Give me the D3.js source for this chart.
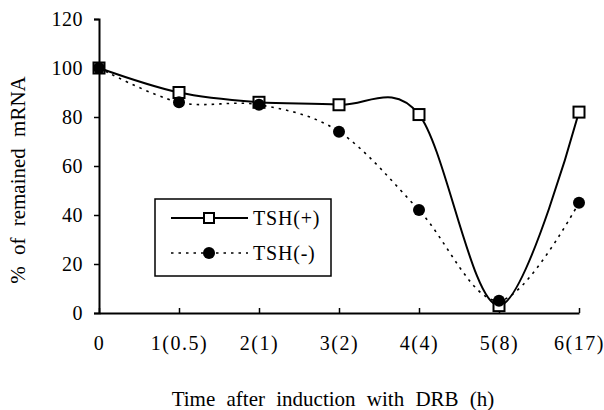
<!DOCTYPE html>
<html>
<head>
<meta charset="utf-8">
<style>
  body { margin: 0; background: #fff; }
</style>
</head>
<body>
<div id="chart"></div>
<script src="https://cdn.jsdelivr.net/npm/d3@7"></script>
<script>
// categories on the x axis (index with hours in brackets)
var timeLabels = ["0", "1(0.5)", "2(1)", "3(2)", "4(4)", "5(8)", "6(17)"];
var tshPlus  = [100, 90, 86, 85, 81, 3, 82];
var tshMinus = [100, 86, 85, 74, 42, 5, 45];
var yTicks = [0, 20, 40, 60, 80, 100, 120];

var serif = "'Liberation Serif', 'DejaVu Serif', serif";
var width = 604, height = 410;
var plot = {left: 99, right: 579, top: 19, bottom: 313};

var svg = d3.select("#chart").append("svg")
  .attr("width", width).attr("height", height)
  .style("font-family", serif);

var x = d3.scaleLinear().domain([0, timeLabels.length - 1]).range([plot.left, plot.right]);
var y = d3.scaleLinear().domain([0, 120]).range([plot.bottom, plot.top]);

// y axis
var yAxis = d3.axisLeft(y).tickValues(yTicks).tickSize(5).tickPadding(11);
var gy = svg.append("g").attr("transform", "translate(" + plot.left + ",0)").call(yAxis);
gy.attr("font-family", null);
gy.select(".domain").attr("stroke-width", 2);
gy.selectAll(".tick line").attr("stroke-width", 1.5);
gy.selectAll("text").style("font-family", serif).style("font-size", "20px").style("letter-spacing", "0.5px");

// x axis, ticks point inward
var xAxis = d3.axisBottom(x).tickValues(d3.range(timeLabels.length))
  .tickFormat(function (d) { return timeLabels[d]; })
  .tickSize(-5).tickSizeOuter(0).tickPadding(23);
var gx = svg.append("g").attr("transform", "translate(0," + plot.bottom + ")").call(xAxis);
gx.attr("font-family", null);
gx.select(".domain").attr("stroke-width", 2);
gx.selectAll(".tick line").attr("stroke-width", 1.5);
gx.selectAll("text").style("font-family", serif).style("font-size", "20px").style("letter-spacing", "1.5px");

// axis titles
svg.append("text")
  .attr("x", 333).attr("y", 406)
  .attr("text-anchor", "middle").style("font-size", "21px")
  .style("word-spacing", "6px")
  .text("Time after induction with DRB (h)");

svg.append("text")
  .attr("transform", "translate(25,180) rotate(-90)")
  .attr("text-anchor", "middle").style("font-size", "21px")
  .style("word-spacing", "6px")
  .text("% of remained mRNA");

// smoothed lines like the spreadsheet
var line = d3.line()
  .x(function (d, i) { return x(i); })
  .y(function (d) { return y(d); })
  .curve(d3.curveCardinal.tension(0));

svg.append("path").datum(tshMinus)
  .attr("d", line).attr("fill", "none")
  .attr("stroke", "#000").attr("stroke-width", 1.6)
  .attr("stroke-dasharray", "2.5,5");

svg.append("path").datum(tshPlus)
  .attr("d", line).attr("fill", "none")
  .attr("stroke", "#000").attr("stroke-width", 2);

svg.selectAll(".sq").data(tshPlus).enter().append("rect")
  .attr("x", function (d, i) { return x(i) - 5.5; })
  .attr("y", function (d) { return y(d) - 5.5; })
  .attr("width", 11).attr("height", 11)
  .attr("fill", "#fff").attr("stroke", "#000").attr("stroke-width", 2);

svg.selectAll(".dot").data(tshMinus).enter().append("circle")
  .attr("cx", function (d, i) { return x(i); })
  .attr("cy", function (d) { return y(d); })
  .attr("r", 6).attr("fill", "#000");

// legend
var lg = svg.append("g");
lg.append("rect").attr("x", 155).attr("y", 199).attr("width", 176).attr("height", 77)
  .attr("fill", "#fff").attr("stroke", "#000").attr("stroke-width", 1.5);

lg.append("line").attr("x1", 171).attr("x2", 248).attr("y1", 218).attr("y2", 218)
  .attr("stroke", "#000").attr("stroke-width", 2);
lg.append("rect").attr("x", 204).attr("y", 213).attr("width", 10).attr("height", 10)
  .attr("fill", "#fff").attr("stroke", "#000").attr("stroke-width", 2);
lg.append("text").attr("x", 253).attr("y", 225).style("font-size", "20px")
  .style("letter-spacing", "0.8px").text("TSH(+)");

lg.append("line").attr("x1", 171).attr("x2", 248).attr("y1", 253).attr("y2", 253)
  .attr("stroke", "#000").attr("stroke-width", 1.6).attr("stroke-dasharray", "2.5,5");
lg.append("circle").attr("cx", 209).attr("cy", 253).attr("r", 6).attr("fill", "#000");
lg.append("text").attr("x", 253).attr("y", 260).style("font-size", "20px")
  .style("letter-spacing", "0.8px").text("TSH(-)");
</script>
</body>
</html>
